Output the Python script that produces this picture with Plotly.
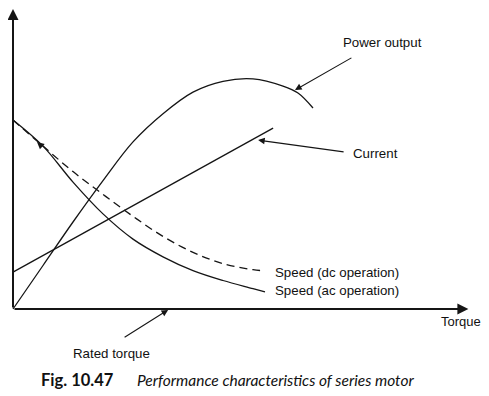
import plotly.graph_objects as go

# Torque values (arbitrary units) and characteristic values
power_torque = [0, 1, 2, 3, 4, 5, 6, 7, 8, 9, 9.5, 10]
power_output = [0, 1.45, 2.9, 4.28, 5.57, 6.51, 7.23, 7.59, 7.67, 7.43, 7.2, 6.7]

current_torque = [0, 8.67]
current_vals = [1.23, 6.03]

speed_torque = [0, 1, 2, 3, 4, 5, 6, 7, 8, 8.4]
speed_dc = [6.3, 5.43, 4.58, 3.82, 3.09, 2.42, 1.89, 1.51, 1.31, 1.27]
speed_ac = [6.3, 5.43, 4.23, 3.17, 2.33, 1.74, 1.28, 0.95, 0.68, 0.57]

LINE = "#151515"
FONT = "Liberation Sans, Arial, sans-serif"

fig = go.Figure()
fig.add_trace(go.Scatter(x=power_torque, y=power_output, mode="lines",
                         line=dict(color=LINE, width=1.3, shape="spline", smoothing=1),
                         name="Power output", hoverinfo="skip"))
fig.add_trace(go.Scatter(x=current_torque, y=current_vals, mode="lines",
                         line=dict(color=LINE, width=1.3),
                         name="Current", hoverinfo="skip"))
fig.add_trace(go.Scatter(x=speed_torque, y=speed_dc, mode="lines",
                         line=dict(color=LINE, width=1.3, dash="8px,5px", shape="spline", smoothing=1),
                         name="Speed (dc operation)", hoverinfo="skip"))
fig.add_trace(go.Scatter(x=speed_torque, y=speed_ac, mode="lines",
                         line=dict(color=LINE, width=1.3, shape="spline", smoothing=1),
                         name="Speed (ac operation)", hoverinfo="skip"))

def arrow(x, y, ax, ay, width=1.1, head=2, size=1.2):
    fig.add_annotation(x=x, y=y, ax=ax, ay=ay, xref="x", yref="y", axref="x", ayref="y",
                       text="", showarrow=True, arrowhead=head, arrowsize=size,
                       arrowwidth=width, arrowcolor=LINE)

# axes with arrowheads
arrow(15.18, 0, 0, 0, width=2, head=2, size=1.1)
arrow(0, 10.0, 0, 0, width=2, head=2, size=1.1)

# pointer arrows
arrow(9.4, 7.3, 11.33, 8.4)
arrow(8.17, 5.63, 11.07, 5.23)
arrow(5.17, -0.03, 3.67, -0.97)
arrow(0.8, 5.57, 1.0, 5.39, width=1.1, head=2, size=1.3)

def label(text, x, y, anchor="center", size=13.3, font=FONT):
    fig.add_annotation(x=x, y=y, xref="x", yref="y", text=text, showarrow=False,
                       xanchor=anchor, yanchor="middle",
                       font=dict(family=font, size=size, color="#111"))

label("Power output", 12.33, 8.87)
label("Current", 12.08, 5.2)
label("Speed (dc operation)", 8.67, 1.23, anchor="left")
label("Speed (ac operation)", 8.67, 0.63, anchor="left")
label("Torque", 14.93, -0.4, size=13)
label("Rated torque", 3.27, -1.47)

CAP = "Lato, Open Sans, sans-serif"
label("<b>Fig. 10.47</b>", 0.87, -2.37, anchor="left", size=16.5, font=CAP)
label("<i>Performance characteristics of series motor</i>", 4.07, -2.37, anchor="left",
      size=15.5, font=CAP)

# The page body has an 8px default margin, so the figure is sized and ranged to fit it.
fig.update_layout(
    width=481, height=388,
    margin=dict(l=0, r=0, t=0, b=0),
    paper_bgcolor="white", plot_bgcolor="white",
    showlegend=False,
    xaxis=dict(range=[-5/30, 476/30], visible=False, fixedrange=True),
    yaxis=dict(range=[-87/30, 301/30], visible=False, fixedrange=True),
)

fig.write_html("out.html")
